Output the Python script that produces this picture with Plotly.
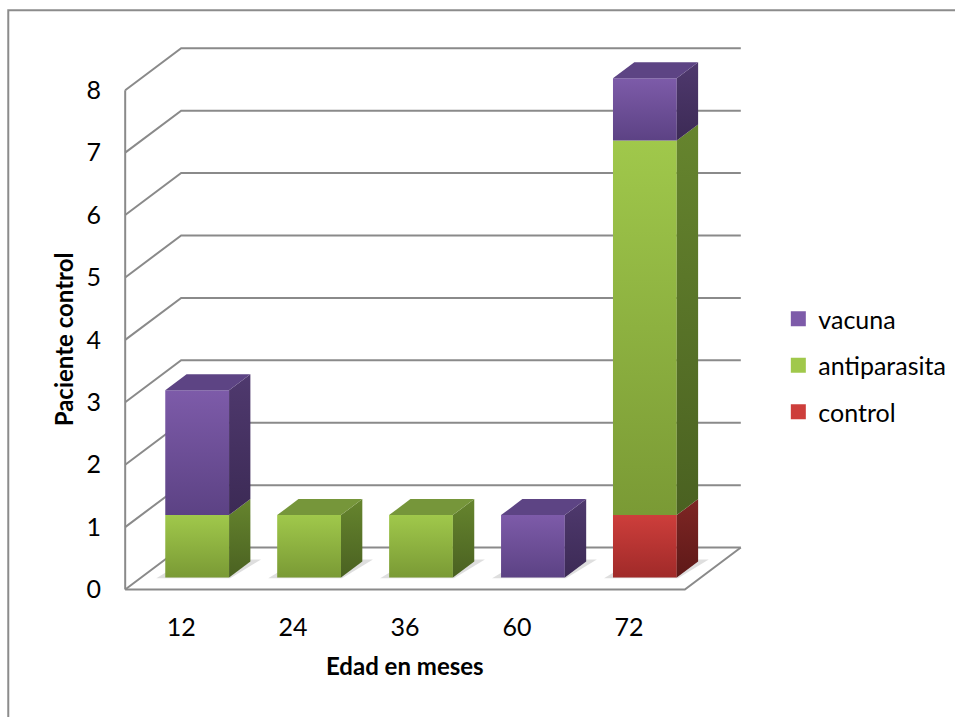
import plotly.graph_objects as go

# --- data -------------------------------------------------------------
categories = ["12", "24", "36", "60", "72"]
control = [0, 0, 0, 0, 1]
antiparasita = [1, 1, 1, 0, 6]
vacuna = [2, 0, 0, 1, 1]
y_ticks = [0, 1, 2, 3, 4, 5, 6, 7, 8]

series = [
    # name, values, front (bottom, top), side (bottom, top), top face
    ("control", control, ("#A02A29", "#CD3E3B"), ("#5E1918", "#7E2624"), "#9A2E2C"),
    ("antiparasita", antiparasita, ("#7A9A35", "#A0C84B"), ("#4A6121", "#66852E"), "#76963A"),
    ("vacuna", vacuna, ("#5C4284", "#7D5BA9"), ("#3C2A55", "#4F396E"), "#5D4484"),
]

# oblique projection of the floor depth, in axis units
DX, DY = 0.5, 0.672
D_FRONT, D_BACK = 0.286, 0.667
HALF_W = 0.285
Y_MAX = 8

GRID = "#8A8A8A"
FONT = "Lato"


def proj(x, y, d):
    return x + d * DX, y + d * DY


def poly(points):
    xs = [p[0] for p in points] + [points[0][0]]
    ys = [p[1] for p in points] + [points[0][1]]
    return xs, ys


fig = go.Figure()


def add_line(points, color=GRID, width=2):
    xs = [p[0] for p in points]
    ys = [p[1] for p in points]
    fig.add_trace(go.Scatter(x=xs, y=ys, mode="lines", line=dict(color=color, width=width),
                             hoverinfo="skip", showlegend=False))


def add_face(points, color=None, grad=None, line_color=None):
    xs, ys = poly(points)
    kw = dict(x=xs, y=ys, mode="lines", fill="toself", hoverinfo="skip", showlegend=False,
              line=dict(width=0.6 if line_color else 0, color=line_color or "rgba(0,0,0,0)"))
    if grad is not None:
        kw["fillgradient"] = dict(type="vertical", colorscale=[[0, grad[0]], [1, grad[1]]])
        kw["fillcolor"] = grad[1]
    else:
        kw["fillcolor"] = color
    fig.add_trace(go.Scatter(**kw))


x_left = -0.5
x_right = len(categories) - 0.5

# floor
add_face([proj(x_left, 0, 0), proj(x_right, 0, 0), proj(x_right, 0, 1), proj(x_left, 0, 1)],
         color="white")
add_line([proj(x_right, 0, 1), proj(x_right, 0, 0), proj(x_left, 0, 0)])

# left wall and back wall gridlines
for v in y_ticks:
    add_line([proj(x_left, v, 0), proj(x_left, v, 1), proj(x_right, v, 1)])
add_line([proj(x_left, 0, 0), proj(x_left, Y_MAX, 0)])

# soft shadows on the floor
for i in range(len(categories)):
    if sum(s[1][i] for s in series) == 0:
        continue
    xl, xr = i - HALF_W - 0.07, i + HALF_W + 0.02
    add_face([proj(xl, 0, D_FRONT - 0.02), proj(xr, 0, D_FRONT - 0.02),
              proj(xr + 0.05, 0, D_BACK + 0.05), proj(xl + 0.05, 0, D_BACK + 0.05)],
             color="rgba(160,160,160,0.35)")

# stacked 3D bars
for i in range(len(categories)):
    base = 0.0
    segs = []
    for name, vals, front, side, top in series:
        v = vals[i]
        if v > 0:
            segs.append((base, base + v, front, side, top))
            base += v
    for k, (y0, y1, front, side, top) in enumerate(segs):
        xl, xr = i - HALF_W, i + HALF_W
        # front face
        add_face([proj(xl, y0, D_FRONT), proj(xr, y0, D_FRONT), proj(xr, y1, D_FRONT),
                  proj(xl, y1, D_FRONT)], grad=front)
        # right side face
        add_face([proj(xr, y0, D_FRONT), proj(xr, y0, D_BACK), proj(xr, y1, D_BACK),
                  proj(xr, y1, D_FRONT)], grad=side)
        # top face on the highest segment only
        if k == len(segs) - 1:
            add_face([proj(xl, y1, D_FRONT), proj(xr, y1, D_FRONT), proj(xr, y1, D_BACK),
                      proj(xl, y1, D_BACK)], color=top)

# legend entries, each in its own group so the groups can be spaced apart
for name, vals, front, side, top in reversed(series):
    fig.add_trace(go.Scatter(x=[None], y=[None], mode="markers", name=name, legendgroup=name,
                             marker=dict(symbol="square", size=15, color=front[1],
                                         line=dict(width=0))))

# pixel geometry: 112 px per category, 62.5 px per unit
PX_CAT, PX_UNIT = 112.0, 62.5
xr_lo, xr_hi = -0.6, 5.1
yr_lo, yr_hi = -0.2, 8.9
left_px = 125 - (x_left - xr_lo) * PX_CAT
bottom_px = 590 + (0 - yr_lo) * PX_UNIT
W, H = 955, 717
m_l = left_px
m_r = W - left_px - (xr_hi - xr_lo) * PX_CAT
m_b = H - bottom_px
m_t = bottom_px - (yr_hi - yr_lo) * PX_UNIT

fig.update_layout(
    width=W, height=H, autosize=False,
    margin=dict(l=m_l, r=m_r, t=m_t, b=m_b, pad=0),
    paper_bgcolor="white", plot_bgcolor="rgba(0,0,0,0)",
    font=dict(family=FONT, size=25, color="black"),
    showlegend=True,
    legend=dict(xref="container", yref="container", x=0.815, y=1 - 296 / 717,
                xanchor="left", yanchor="top", font=dict(size=25, family=FONT),
                tracegroupgap=11, itemsizing="trace", bgcolor="rgba(0,0,0,0)",
                traceorder="grouped"),
    xaxis=dict(range=[xr_lo, xr_hi], showgrid=False, zeroline=False, showline=False,
               tickmode="array", tickvals=list(range(len(categories))), ticktext=categories,
               ticks="", ticklabelstandoff=8, fixedrange=True),
    yaxis=dict(range=[yr_lo, yr_hi], showgrid=False, zeroline=False, showline=False,
               tickmode="array", tickvals=y_ticks, ticks="", ticklabelstandoff=12,
               fixedrange=True),
    annotations=[
        dict(text="<b>Paciente control</b>", xref="paper", yref="y", x=0, y=4,
             xshift=-67, textangle=-90, showarrow=False, font=dict(size=24, family=FONT)),
        dict(text="<b>Edad en meses</b>", xref="x", yref="paper", x=2, y=0,
             yshift=-80, showarrow=False, font=dict(size=24, family=FONT)),
    ],
    shapes=[dict(type="rect", xref="paper", yref="paper",
                 x0=-(m_l - 8) / ((xr_hi - xr_lo) * PX_CAT),
                 x1=1 + (m_r + 20) / ((xr_hi - xr_lo) * PX_CAT),
                 y0=-(m_b + 20) / ((yr_hi - yr_lo) * PX_UNIT),
                 y1=1 + (m_t - 10) / ((yr_hi - yr_lo) * PX_UNIT),
                 line=dict(color="#8C8C8C", width=2), layer="below")],
)

fig.write_html("out.html")
